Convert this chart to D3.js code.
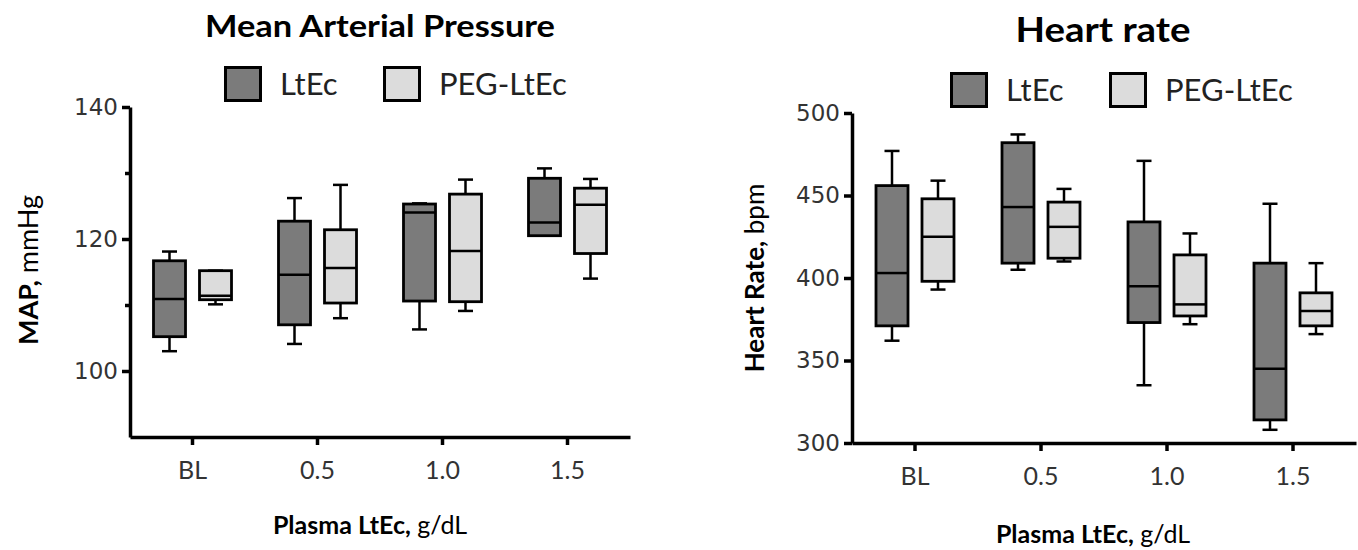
<!DOCTYPE html>
<html>
<head>
<meta charset="utf-8">
<script src="https://cdn.jsdelivr.net/npm/d3@7"></script>
<style>
  body { margin: 0; background: #fff; }
  svg { display: block; }
</style>
</head>
<body>
<svg width="1358" height="550"></svg>
<script>
var svg = d3.select('svg');

// categories and groups
var categories = ["BL", "0.5", "1.0", "1.5"];
var series = ["LtEc", "PEG-LtEc"];
var seriesFill = { "LtEc": "#7b7b7b", "PEG-LtEc": "#dcdcdc" };

// box stats per category: [min, q1, median, q3, max]
var mapLtEc = [
  [103.0, 105.2, 110.9, 116.7, 118.1],
  [104.1, 107.0, 114.6, 122.7, 126.2],
  [106.3, 110.6, 124.0, 125.3, 125.4],
  [120.5, 120.5, 122.5, 129.2, 130.7]
];
var mapPeg = [
  [110.1, 110.8, 111.4, 115.2, 115.2],
  [108.0, 110.3, 115.6, 121.4, 128.2],
  [109.1, 110.5, 118.2, 126.8, 129.0],
  [114.0, 117.8, 125.2, 127.7, 129.1]
];
var hrLtEc = [
  [362, 371, 403, 456, 477],
  [405, 409, 443, 482, 487],
  [335, 373, 395, 434, 471],
  [308, 314, 345, 409, 445]
];
var hrPeg = [
  [393, 398, 425, 448, 459],
  [410, 412, 431, 446, 454],
  [372, 377, 384, 414, 427],
  [366, 371, 380, 391, 409]
];

var mapTicks = [100, 120, 140];
var mapMinorTicks = [110, 130];
var hrTicks = [300, 350, 400, 450, 500];

var charts = [
  {
    title: "Mean Arterial Pressure", titleSize: 31, titleLen: 350, titleX: 380, titleY: 37,
    yBold: "MAP,", yRest: " mmHg", ySize: 27, yTitleX: 38, yTitleY: 270,
    xTitleX: 370, xTitleY: 534, xSize: 25,
    legendX: 224, legendY: 66,
    left: 130, right: 630, top: 107, bottom: 437,
    domain: [90, 140], ticks: mapTicks, minor: mapMinorTicks,
    data: { "LtEc": mapLtEc, "PEG-LtEc": mapPeg }
  },
  {
    title: "Heart rate", titleSize: 34, titleLen: 175, titleX: 1103, titleY: 42,
    yBold: "Heart Rate,", yRest: " bpm", ySize: 26, yTitleX: 764, yTitleY: 278,
    xTitleX: 1093, xTitleY: 543, xSize: 25,
    legendX: 950, legendY: 72,
    left: 852, right: 1356, top: 113, bottom: 443,
    domain: [300, 500], ticks: hrTicks, minor: [],
    data: { "LtEc": hrLtEc, "PEG-LtEc": hrPeg }
  }
];

var boxW = 32;
var capW = 15;

charts.forEach(function(c) {
  var g = svg.append("g");

  var x = d3.scaleBand().domain(categories).range([c.left, c.right]);
  var xSub = d3.scalePoint().domain(series).range([-23, 23]);
  var y = d3.scaleLinear().domain(c.domain).range([c.bottom, c.top]);

  // title
  g.append("text")
    .attr("x", c.titleX).attr("y", c.titleY)
    .attr("text-anchor", "middle")
    .attr("textLength", c.titleLen)
    .attr("lengthAdjust", "spacingAndGlyphs")
    .style("font-family", "Lato, sans-serif")
    .style("font-weight", "bold")
    .style("font-size", c.titleSize + "px")
    .text(c.title);

  // legend
  var lg = g.append("g").attr("transform", "translate(" + c.legendX + "," + c.legendY + ")");
  var lx = [0, 159];
  series.forEach(function(s, i) {
    lg.append("rect")
      .attr("x", lx[i] + 1.5).attr("y", 1.5)
      .attr("width", 35).attr("height", 33)
      .attr("fill", seriesFill[s])
      .attr("stroke", "#000").attr("stroke-width", 3);
    lg.append("text")
      .attr("x", lx[i] + 56).attr("y", 29)
      .style("font-family", "Lato, sans-serif")
      .style("font-size", "31px")
      .style("fill", "#222")
      .text(s);
  });

  // y axis
  var yAxis = g.append("g")
    .attr("transform", "translate(" + c.left + ",0)")
    .call(d3.axisLeft(y).tickValues(c.ticks).tickSize(8).tickSizeOuter(0).tickPadding(4));
  g.append("g")
    .attr("transform", "translate(" + c.left + ",0)")
    .call(d3.axisLeft(y).tickValues(c.minor).tickSize(5).tickSizeOuter(0).tickFormat(""))
    .select(".domain").remove();

  // x axis
  var xAxis = g.append("g")
    .attr("transform", "translate(0," + c.bottom + ")")
    .call(d3.axisBottom(x).tickSize(8).tickSizeOuter(0).tickPadding(16));

  g.selectAll(".domain, .tick line")
    .attr("stroke", "#000").attr("stroke-width", 3.5);
  yAxis.selectAll(".tick text")
    .style("font-family", "DejaVu Sans, sans-serif")
    .style("font-size", "23px")
    .style("fill", "#333");
  xAxis.selectAll(".tick text")
    .style("font-family", "Lato, sans-serif")
    .style("font-size", "25px")
    .style("fill", "#333");

  // axis titles
  var yt = g.append("text")
    .attr("transform", "translate(" + c.yTitleX + "," + c.yTitleY + ") rotate(-90)")
    .attr("text-anchor", "middle")
    .style("font-family", "Lato, sans-serif")
    .style("font-size", c.ySize + "px");
  yt.append("tspan").style("font-weight", "bold").text(c.yBold);
  yt.append("tspan").text(c.yRest);

  var xt = g.append("text")
    .attr("x", c.xTitleX).attr("y", c.xTitleY)
    .attr("text-anchor", "middle")
    .style("font-family", "Lato, sans-serif")
    .style("font-size", c.xSize + "px");
  xt.append("tspan").style("font-weight", "bold").text("Plasma LtEc,");
  xt.append("tspan").text(" g/dL");

  // boxes
  series.forEach(function(s) {
    var rows = c.data[s].map(function(v, i) { return { cat: categories[i], v: v }; });
    var bg = g.selectAll(".box-" + s).data(rows).enter().append("g")
      .attr("transform", function(d) {
        return "translate(" + (x(d.cat) + x.bandwidth() / 2 + xSub(s)) + ",0)";
      });

    // whiskers
    bg.append("line")
      .attr("x1", 0).attr("x2", 0)
      .attr("y1", function(d) { return y(d.v[4]); })
      .attr("y2", function(d) { return y(d.v[0]); })
      .attr("stroke", "#000").attr("stroke-width", 2.5);
    [0, 4].forEach(function(k) {
      bg.append("line")
        .attr("x1", -capW / 2).attr("x2", capW / 2)
        .attr("y1", function(d) { return y(d.v[k]); })
        .attr("y2", function(d) { return y(d.v[k]); })
        .attr("stroke", "#000").attr("stroke-width", 2.5);
    });

    bg.append("rect")
      .attr("x", -boxW / 2).attr("width", boxW)
      .attr("y", function(d) { return y(d.v[3]); })
      .attr("height", function(d) { return y(d.v[1]) - y(d.v[3]); })
      .attr("fill", seriesFill[s])
      .attr("stroke", "#000").attr("stroke-width", 2.8);

    bg.append("line")
      .attr("x1", -boxW / 2).attr("x2", boxW / 2)
      .attr("y1", function(d) { return y(d.v[2]); })
      .attr("y2", function(d) { return y(d.v[2]); })
      .attr("stroke", "#000").attr("stroke-width", 2.5);
  });
});
</script>
</body>
</html>
